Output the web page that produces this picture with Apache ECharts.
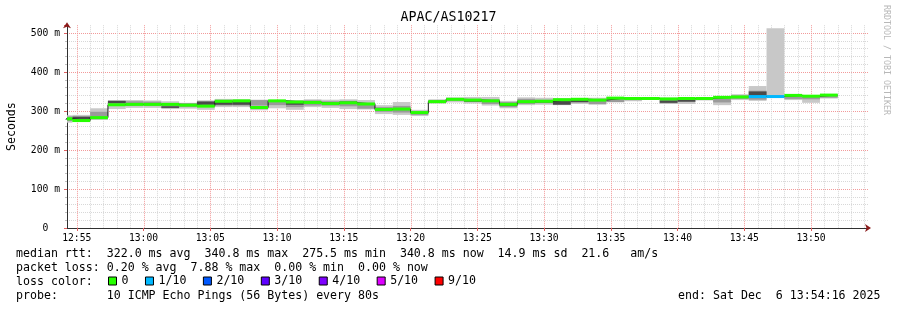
<!DOCTYPE html>
<html><head><meta charset="utf-8">
<script src="https://cdn.jsdelivr.net/npm/echarts@6/dist/echarts.min.js"></script>
<style>html,body{margin:0;padding:0;background:#fff}#c{width:897px;height:310px}</style>
</head><body><div id="c"></div>
<script>
// ---------------- data ----------------
const chartTitle = 'APAC/AS10217';
const chartStart = '12:54:16';
const chartEnd = '13:54:16';
const firstStepStart = '12:53:20';
const stepSeconds = 80;
const tickLabels = ['12:55','13:00','13:05','13:10','13:15','13:20','13:25','13:30','13:35','13:40','13:45','13:50'];
const yTickValues = [0,100,200,300,400,500];

const medianRtt = [280,275.5,283,316,317,317,317,315,312.5,325,326,309,326,323,322,319,321,318,304,305,296,324,330,328,326,317,324,325,329,330,328,333,332,332,331,332,332,335,336,337,337,340,338,340.8];
const smokeOuterLow  = [270,272,277,305,308,308,305,306,303,310,310,302,307,303,310,308,305,304,292,290,287,319,322,319,314,307,315,316,315,318,316,322,325,330,318,318,327,315,328,326,334,328,321,332];
const smokeOuterHigh = [289,290,307,328,328,327,325,321,327,331,330,329,328,328,330,329,330,328,315,323,303,330,335,336,336,326,335,334,333,333,334,335,334,335,334,334,334,337,343,364,512,342,340,342];
const smokeInnerLow  = [274,276,283,314,314,313,308,310,313,314,314,314,315,310,314,314,312,306,298,296,290,321,326,323,318,310,318,320,318,321,318,323,328,331,320,323,329,322,331,329,336,331,330,334];
const smokeInnerHigh = [286,287,298,326,325,324,319,320,326,328,327,328,326,326,327,325,326,320,310,313,299,328,333,331,330,323,331,329,328,330,326,332,333,334,328,331,333,334,340,352,340,338,337,339];
const smokeCoreLow   = [null,278,null,320,null,null,308,null,316,316,316,null,null,316,null,null,318,null,null,null,null,null,null,324,null,313,null,322,316,323,null,null,null,null,321,324,null,null,null,338,null,null,null,null];
const smokeCoreHigh  = [null,285,null,326,null,null,312,null,324,324,325,null,null,325,null,null,324,null,null,null,null,null,null,327,null,320,null,326,326,328,null,null,null,null,327,330,null,null,null,350,null,null,null,null];
const lossIndex      = [0,0,0,0,0,0,0,0,0,0,0,0,0,0,0,0,0,0,0,0,0,0,0,0,0,0,0,0,0,0,0,0,0,0,0,0,0,0,0,1,1,0,0,0];

const lossNames  = ['0','1/10','2/10','3/10','4/10','5/10','9/10'];
const lossColors = ['#26ff00','#00b8ff','#0059ff','#5e00ff','#7e00ff','#dd00ff','#ff0000'];

const statMedian = ['322.0 ms avg','340.8 ms max','275.5 ms min','340.8 ms now','14.9 ms sd','21.6   am/s'];
const statLoss   = ['0.20 % avg','7.88 % max','0.00 % min','0.00 % now'];
const probeText  = '10 ICMP Echo Pings (56 Bytes) every 80s';
const endText    = 'end: Sat Dec  6 13:54:16 2025';

// ---------------- build ----------------
const MONO = "'DejaVu Sans Mono', monospace";
const GRID_MINOR = '#d8d8d8', GRID_MAJOR = '#f29a9a';
const AXIS_COLOR = '#303030', ARROW_COLOR = '#8a1a1a';
function toMin(s){const p=s.split(':').map(Number);return (p[0]-12)*60+p[1]+(p[2]||0)/60;}
const xMin = toMin(chartStart), xMax = toMin(chartEnd);
const step0 = toMin(firstStepStart), stepMin = stepSeconds/60;
const stepStart = medianRtt.map((_,i)=>step0+i*stepMin);
const stepEnd = stepStart.map(s=>s+stepMin);
const tickMinutes = tickLabels.map(t=>toMin(t+':00'));
const minuteLines = [];
for (let m=Math.ceil(xMin); m<=Math.floor(xMax); m++) minuteLines.push([m, tickMinutes.some(t=>Math.abs(t-m)<1e-6)?1:0]);

function rectRender(fill){
  return function(params, api){
    const x0=api.value(0), x1=api.value(1), lo=api.value(2), hi=api.value(3);
    const p0=api.coord([x0,hi]), p1=api.coord([x1,lo]);
    const cs=params.coordSys;
    const shape=echarts.graphic.clipRectByRect(
      {x:p0[0], y:p0[1], width:p1[0]-p0[0], height:Math.max(p1[1]-p0[1],1)},
      {x:cs.x, y:cs.y, width:cs.width, height:cs.height});
    return shape && {type:'rect', shape:shape, style:{fill:fill}};
  };
}
function medianRender(params, api){
  const x0=api.value(0), x1=api.value(1), m=api.value(2);
  const p0=api.coord([x0,m]), p1=api.coord([x1,m]);
  const cs=params.coordSys;
  const shape=echarts.graphic.clipRectByRect(
    {x:p0[0], y:p0[1]-1.5, width:p1[0]-p0[0], height:3},
    {x:cs.x, y:cs.y, width:cs.width, height:cs.height});
  return shape && {type:'rect', shape:shape, style:{fill:api.visual('color')}};
}
function vgridRender(params, api){
  const p=api.coord([api.value(0), 0]);
  const cs=params.coordSys;
  const x=Math.round(p[0])+0.5;
  return {type:'line', shape:{x1:x, y1:cs.y, x2:x, y2:cs.y+cs.height},
    style:{stroke: api.value(1)?GRID_MAJOR:GRID_MINOR, lineWidth:1, lineDash:[1,1]}};
}
function bandData(lo, hi){
  const out=[];
  lo.forEach((v,i)=>{ if(v!=null && hi[i]!=null) out.push([stepStart[i],stepEnd[i],v,hi[i]]); });
  return out;
}

const series = [];
series.push({type:'custom', name:'vgrid', renderItem:vgridRender, data:minuteLines, encode:{x:0}, z:1, silent:true});
series.push({type:'custom', name:'smokeOuter', renderItem:rectRender('#c8c8c8'), data:bandData(smokeOuterLow,smokeOuterHigh), encode:{x:[0,1],y:[2,3]}, z:2, silent:true});
series.push({type:'custom', name:'smokeInner', renderItem:rectRender('#9a9a9a'), data:bandData(smokeInnerLow,smokeInnerHigh), encode:{x:[0,1],y:[2,3]}, z:2, silent:true});
series.push({type:'custom', name:'smokeCore', renderItem:rectRender('#4a4a4a'), data:bandData(smokeCoreLow,smokeCoreHigh), encode:{x:[0,1],y:[2,3]}, z:2, silent:true});
const stepLine = medianRtt.map((v,i)=>[stepStart[i],v]);
stepLine.push([stepEnd[stepEnd.length-1], medianRtt[medianRtt.length-1]]);
series.push({type:'line', step:'end', data:stepLine, symbol:'none', lineStyle:{color:'#1a1a1a', width:1}, z:3, silent:true});
lossNames.forEach((name,k)=>{
  const d=[];
  medianRtt.forEach((v,i)=>{ if(lossIndex[i]===k) d.push([stepStart[i],stepEnd[i],v]); });
  series.push({type:'custom', name:name, renderItem:medianRender, data:d, encode:{x:[0,1],y:2},
    itemStyle:{color:lossColors[k]}, z:4, silent:true});
});

const txt = (x,y,text,extra)=>({type:'text', x:x, y:y, silent:true,
  style:Object.assign({text:text, font:'11.6px '+MONO, fill:'#000', verticalAlign:'middle', align:'left'}, (extra||{}))});

// arrow-only axis line: the line itself is hidden by an empty dash pattern
const arrowLine = {show:true, onZero:false, symbol:['none','arrow'], symbolSize:[6,6], symbolOffset:[0,3],
  lineStyle:{color:ARROW_COLOR, width:0.5, cap:'butt', type:[0,100000]}};

const option = {
  animation:false,
  backgroundColor:'#ffffff',
  title:{text:chartTitle, left:'center', top:11, padding:0,
    textStyle:{fontFamily:MONO, fontSize:13.3, fontWeight:'normal', color:'#000'}},
  grid:{left:67, right:29, top:25.2, bottom:82},
  legend:{data:lossNames, left:108, top:275, padding:0, itemGap:16.5, itemWidth:8, itemHeight:8,
    icon:'rect', selectedMode:false, itemStyle:{borderColor:'#000', borderWidth:1},
    textStyle:{fontFamily:MONO, fontSize:11.6, color:'#000'}},
  xAxis:[
    {type:'value', min:xMin, max:xMax, position:'bottom',
     axisLine:arrowLine, axisTick:{show:false}, axisLabel:{show:false}, splitLine:{show:false}},
    {type:'value', min:xMin, max:xMax, position:'bottom',
     axisLine:{show:true, onZero:false, lineStyle:{color:AXIS_COLOR}},
     splitLine:{show:false},
     axisTick:{show:true, customValues:tickMinutes, length:3, lineStyle:{color:'#e06060'}},
     axisLabel:{customValues:tickMinutes, margin:5, fontFamily:MONO, fontSize:9.7, color:'#000',
       formatter:function(v){const i=tickMinutes.findIndex(t=>Math.abs(t-v)<1e-6);return i>=0?tickLabels[i]:'';}}}
  ],
  yAxis:[
    {type:'value', min:0, max:520, interval:20, position:'left',
     axisLine:arrowLine,
     axisTick:{show:true, length:2, lineStyle:{color:'#c0c0c0'}},
     axisLabel:{show:false},
     splitLine:{show:true, showMinLine:false, showMaxLine:false, lineStyle:{color:GRID_MINOR, type:[1,1]}}},
    {type:'value', min:0, max:520, interval:100, position:'left', offset:0,
     axisLine:{show:true, onZero:false, lineStyle:{color:AXIS_COLOR}},
     axisTick:{show:true, length:3, lineStyle:{color:'#e06060'}},
     axisLabel:{margin:7, fontFamily:MONO, fontSize:9.7, color:'#000',
       formatter:function(v){ if(yTickValues.indexOf(v)<0) return ''; return v===0?'0  ':(v+' m'); }},
     splitLine:{show:true, showMinLine:false, showMaxLine:false, lineStyle:{color:GRID_MAJOR, type:[1,1]}}}
  ],
  graphic:[
    Object.assign(txt(11.5, 126.6, 'Seconds', {align:'center'}), {rotation:Math.PI/2}),
    Object.assign(txt(886, 5, 'RRDTOOL / TOBI OETIKER', {font:'8.3px '+MONO, fill:'#b8b8b8'}), {rotation:-Math.PI/2}),
    txt(16, 254, 'median rtt:  '+statMedian.join('  ')),
    txt(16, 268, 'packet loss: '+statLoss.join('  ')),
    txt(16, 282, 'loss color:'),
    txt(16, 296, 'probe:       '+probeText),
    txt(880.5, 296, endText, {align:'right'})
  ],
  series: series
};
const chart = echarts.init(document.getElementById('c'), null, {renderer:'canvas'});
chart.setOption(option);
</script>
</body></html>
